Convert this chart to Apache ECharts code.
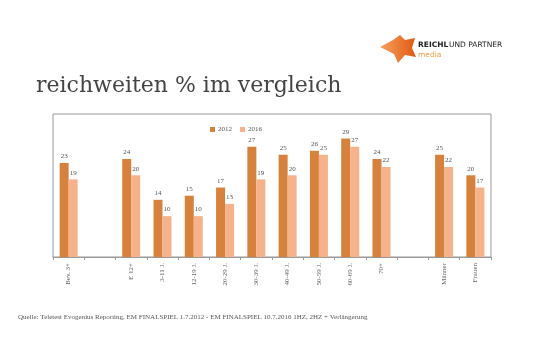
<!DOCTYPE html>
<html><head><meta charset="utf-8">
<script src="https://cdn.jsdelivr.net/npm/echarts@6/dist/echarts.min.js"></script>
<style>html,body{margin:0;padding:0;background:#fff}#c{width:535px;height:357px}</style>
</head><body><div id="c"></div>
<script>
const categories = ["Bev. 3+", "", "E 12+", "3-11 J.", "12-19 J.", "20-29 J.", "30-39 J.", "40-49 J.", "50-59 J.", "60-69 J.", "70+", "", "Männer", "Frauen"];
const values2012 = [23, "-", 24, 14, 15, 17, 27, 25, 26, 29, 24, "-", 25, 20];
const values2016 = [19, "-", 20, 10, 10, 13, 19, 20, 25, 27, 22, "-", 22, 17];
const seriesNames = ["2012", "2016"];

const chart = echarts.init(document.getElementById('c'));
const labelStyle = {show: true, position: 'top', fontFamily: 'Liberation Serif', fontSize: 7, color: '#555', distance: 3};
chart.setOption({
  animation: false,
  title: {
    text: 'reichweiten % im vergleich', left: 31, top: 70,
    textStyle: {fontFamily: 'DejaVu Serif', fontWeight: 'normal', fontSize: 22, color: '#444'}
  },
  legend: {
    data: seriesNames, left: 205, top: 121, itemWidth: 5, itemHeight: 5, itemGap: 8,
    icon: 'rect', textStyle: {fontFamily: 'Liberation Serif', fontSize: 7, color: '#555', padding: [0,0,0,-2]}
  },
  grid: {left: 53, right: 44, top: 114, bottom: 100, show: true, borderColor: '#999', borderWidth: 1},
  xAxis: {
    type: 'category', data: categories,
    axisLine: {lineStyle: {color: '#999'}},
    axisTick: {show: true, length: 3, lineStyle: {color: '#999'}},
    axisLabel: {rotate: 90, interval: 0, fontFamily: 'Liberation Serif', fontSize: 7, color: '#666', margin: 6}
  },
  yAxis: {type: 'value', min: 0, max: 35, show: false, splitLine: {show: false}},
  series: [
    {name: seriesNames[0], type: 'bar', data: values2012, barWidth: 9, barGap: '0%',
     itemStyle: {color: '#D6823D'}, label: labelStyle},
    {name: seriesNames[1], type: 'bar', data: values2016, barWidth: 9,
     itemStyle: {color: '#F5B28B'}, label: labelStyle}
  ],
  graphic: [
    {type: 'polygon', shape: {points: [[380,47],[393,40],[400,35],[405,40],[415,38],[412,48],[416,57],[405,55],[398,63],[394,54]]},
     style: {fill: new echarts.graphic.LinearGradient(0,0,1,0,[{offset:0,color:'#F7A060'},{offset:1,color:'#E05A10'}])}},
    {type: 'text', left: 418, top: 41, style: {text: 'REICHL', font: 'bold 7.5px DejaVu Sans', fill: '#222'}},
    {type: 'text', left: 449, top: 41, style: {text: 'UND PARTNER', font: '7.5px DejaVu Sans', fill: '#222'}},
    {type: 'text', left: 418, top: 51, style: {text: 'media', font: '7.5px DejaVu Sans', fill: '#E8A040'}},
    {type: 'text', left: 18, top: 314, style: {text: 'Quelle: Teletest Evogenius Reporting, EM FINALSPIEL 1.7.2012 - EM FINALSPIEL 10.7.2016 1HZ, 2HZ + Verlängerung', font: '7px Liberation Serif', fill: '#555'}}
  ]
});
</script></body></html>
